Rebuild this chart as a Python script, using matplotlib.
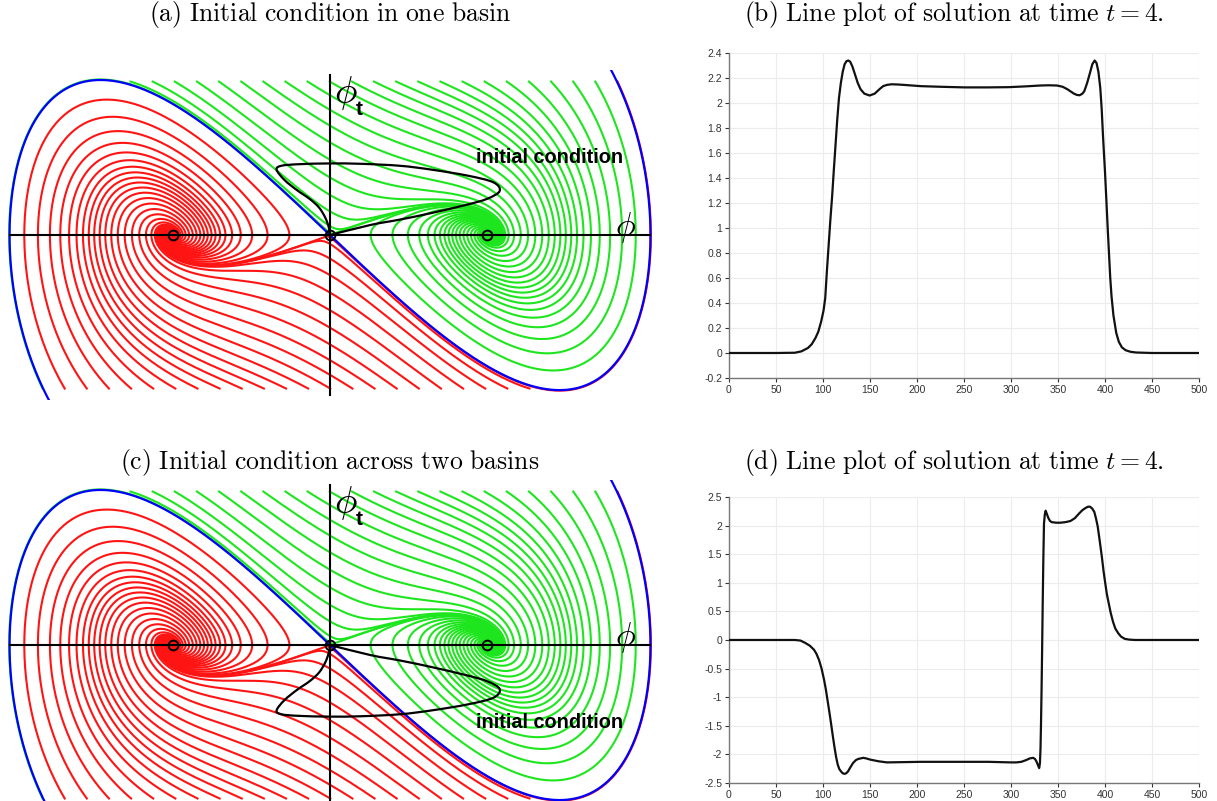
import numpy as np
import matplotlib
matplotlib.use("Agg")
import matplotlib.pyplot as plt
from matplotlib.path import Path
from matplotlib.patches import PathPatch
from matplotlib.ticker import FixedLocator, FuncFormatter

plt.rcParams['mathtext.fontset'] = 'cm'
plt.rcParams['axes.unicode_minus'] = False

# Damped double-well oscillator: phi_tt = -gamma*phi_t + phi - phi^3
wells = [-1.0, 0.0, 1.0]
sep_reach = 2.04      # leftmost point of the separatrix loop
sep_peak = 1.97       # height of the separatrix loop on the phi_t axis

# Seeds for the trajectories on the top edge (bottom edge is the mirror image)
seed_phi_top = np.linspace(-1.27, 1.83, 23)
seed_v_top = 1.95

# Initial condition loop in the (phi, phi_t) plane
ic_phi = [0.0, 0.255, 0.446, 0.637, 0.86, 1.0, 1.08, 1.04, 0.876, 0.65, 0.446, 0.2, 0.0,
          -0.2, -0.31, -0.34, -0.29, -0.21, -0.13, -0.07, -0.03, -0.008, 0.0]
ic_phit = [0.0, 0.127, 0.197, 0.276, 0.38, 0.46, 0.56, 0.67, 0.755, 0.83, 0.88, 0.905, 0.91,
           0.9, 0.88, 0.83, 0.7, 0.57, 0.46, 0.35, 0.22, 0.1, 0.0]

# Solution at t = 4, one basin
xb = [0, 50, 70, 77, 84, 88, 92, 95, 98, 100.6, 102.4, 104.2, 106, 107.8, 109.7, 111.5,
      113.3, 115.1, 117, 119, 121, 123, 125, 127, 129, 131.4, 134, 137, 140, 144, 149.6,
      155, 160, 164, 168, 173, 180, 186, 195, 204, 225, 251, 275, 298, 315, 331, 340,
      349, 355, 360, 364, 367, 370, 373, 376, 378, 381, 384, 386.5, 389, 391, 393, 395,
      396.5, 398, 400, 401.5, 403, 405.6, 407, 409, 412, 414.7, 418, 422, 427, 433, 450, 500]
yb = [0, 0, 0.002, 0.013, 0.04, 0.07, 0.12, 0.17, 0.25, 0.34, 0.44, 0.66, 0.86, 1.06, 1.25,
      1.46, 1.66, 1.86, 2.04, 2.16, 2.25, 2.31, 2.335, 2.34, 2.33, 2.29, 2.23, 2.16, 2.11,
      2.075, 2.06, 2.075, 2.11, 2.135, 2.145, 2.15, 2.148, 2.145, 2.14, 2.135, 2.13, 2.125,
      2.125, 2.127, 2.133, 2.14, 2.142, 2.14, 2.13, 2.11, 2.09, 2.075, 2.065, 2.062, 2.075,
      2.095, 2.16, 2.24, 2.31, 2.34, 2.32, 2.25, 2.12, 1.95, 1.72, 1.45, 1.22, 0.98, 0.6,
      0.45, 0.3, 0.16, 0.09, 0.045, 0.022, 0.01, 0.004, 0, 0]

# Solution at t = 4, two basins
xd = [0, 70, 76, 81, 86, 90.4, 93, 95.8, 98.5, 101.2, 103, 104.8, 106.7, 108.5, 110.3,
      112.1, 113.9, 115.7, 117.5, 119.3, 121, 122.9, 124.7, 126.5, 129, 132, 135, 137.4,
      142.8, 146, 150, 159, 168, 204, 240, 276, 300, 305.5, 311, 316, 320, 323.6, 325.5,
      327, 328.5, 330, 330.8, 331.4, 331.9, 332.5, 333.1, 333.7, 334.4, 335.1, 336, 336.9,
      338, 339.8, 341.5, 343.4, 348, 352.5, 358, 363.3, 368, 372.4, 376, 379.6, 382, 384,
      386.3, 388.6, 390.5, 392.3, 394.5, 396.7, 398.5, 400.3, 402, 404, 406, 408.5, 411,
      414, 417, 421, 426, 432, 500]
yd = [0, 0, -0.01, -0.05, -0.1, -0.17, -0.24, -0.35, -0.5, -0.7, -0.86, -1.05, -1.25,
      -1.45, -1.66, -1.86, -2.04, -2.18, -2.26, -2.3, -2.33, -2.34, -2.33, -2.3, -2.23,
      -2.15, -2.1, -2.08, -2.06, -2.07, -2.09, -2.12, -2.14, -2.13, -2.13, -2.13, -2.14,
      -2.14, -2.13, -2.1, -2.07, -2.06, -2.08, -2.12, -2.18, -2.24, -2.15, -1.9, -1.5,
      -0.9, -0.2, 0.58, 1.4, 2.03, 2.2, 2.26, 2.21, 2.13, 2.08, 2.06, 2.05, 2.05, 2.06,
      2.08, 2.13, 2.21, 2.27, 2.31, 2.33, 2.33, 2.3, 2.24, 2.12, 1.98, 1.72, 1.45, 1.2,
      0.99, 0.8, 0.64, 0.48, 0.32, 0.2, 0.12, 0.06, 0.02, 0.006, 0, 0]

PHI_LIM = 2.05
V_LIM = 2.1


def integrate(p0, v0, g, dt, nsteps, vmax=None):
    # RK4 for phi' = v, v' = -g v + phi - phi^3
    def rhs(p, v):
        return v, -g * v + p - p ** 3
    p = np.array(p0, dtype=float)
    v = np.array(v0, dtype=float)
    ps, vs = [p.copy()], [v.copy()]
    for _ in range(nsteps):
        k1p, k1v = rhs(p, v)
        k2p, k2v = rhs(p + 0.5 * dt * k1p, v + 0.5 * dt * k1v)
        k3p, k3v = rhs(p + 0.5 * dt * k2p, v + 0.5 * dt * k2v)
        k4p, k4v = rhs(p + dt * k3p, v + dt * k3v)
        p = p + dt / 6 * (k1p + 2 * k2p + 2 * k3p + k4p)
        v = v + dt / 6 * (k1v + 2 * k2v + 2 * k3v + k4v)
        ps.append(p.copy())
        vs.append(v.copy())
        if vmax is not None and np.all(np.abs(v) > vmax):
            break
    return np.array(ps), np.array(vs)


def separatrix(g, vmax):
    # stable manifold of the saddle, both branches, backwards in time
    lam_s = (-g - np.sqrt(g ** 2 + 4)) / 2
    d = np.array([-1.0, -lam_s]) * 1e-4 / np.hypot(1.0, lam_s)
    return integrate([d[0], -d[0]], [d[1], -d[1]], g, -0.005, 6000, vmax=vmax)


# damping chosen so that the separatrix loop just reaches sep_reach
lo, hi = 0.3, 1.6
for _ in range(22):
    mid = 0.5 * (lo + hi)
    sp, sv = separatrix(mid, 3.0)
    if -sp[:, 0].min() > sep_reach:
        hi = mid
    else:
        lo = mid
gamma = 0.5 * (lo + hi)

sep_p, sep_v = separatrix(gamma, 3.0)
vscale = sep_peak / sep_v[:, 0].max()

# forward trajectories from the top and bottom edges
seeds_p = np.concatenate([seed_phi_top, -seed_phi_top])
seeds_v = np.concatenate([np.full(seed_phi_top.size, seed_v_top),
                          np.full(seed_phi_top.size, -seed_v_top)]) / vscale
traj_p, traj_v = integrate(seeds_p, seeds_v, gamma, 0.01, 4000)


def smooth_path(xs, ys):
    # Catmull-Rom through the points, drawn as cubic Bezier segments
    pts = np.column_stack([xs, ys])
    ext = np.vstack([pts[0], pts, pts[-1]])
    verts = [pts[0]]
    codes = [Path.MOVETO]
    for i in range(1, len(ext) - 2):
        p0, p1, p2, p3 = ext[i - 1], ext[i], ext[i + 1], ext[i + 2]
        verts += [p1 + (p2 - p0) / 6, p2 - (p3 - p1) / 6, p2]
        codes += [Path.CURVE4] * 3
    return Path(verts, codes)


def phase_portrait(ax, flip):
    for j in range(seeds_p.size):
        col = '#ff1414' if traj_p[-1, j] < 0 else '#1ee61e'
        ax.plot(traj_p[:, j], vscale * traj_v[:, j], color=col, lw=1.5, zorder=2)
    for j in range(2):
        ax.plot(sep_p[:, j], vscale * sep_v[:, j], color='#0000ff', lw=1.6, zorder=3)
    ax.plot([-2.04, 2.04], [0, 0], color='k', lw=1.5, zorder=4)
    ax.plot([0, 0], [-2.03, 2.03], color='k', lw=1.5, zorder=4)
    s = -1 if flip else 1
    ax.add_patch(PathPatch(smooth_path(ic_phi, s * np.array(ic_phit)),
                           fc='none', ec='k', lw=1.6, zorder=5))
    ax.plot(wells, [0, 0, 0], 'o', mfc='none', mec='k', ms=7, mew=1.4, zorder=6)
    ax.text(1.88, 0.1, r'$\phi$', fontsize=24, ha='center', va='center', zorder=6)
    ax.text(0.1, 1.8, r'$\phi$', fontsize=27, ha='center', va='center', zorder=6)
    ax.text(0.185, 1.6, 't', fontsize=15, fontweight='bold', family='Liberation Sans',
            ha='center', va='center', zorder=6)
    ax.text(1.4, s * 0.99, 'initial condition', fontsize=14.3, fontweight='bold',
            family='Liberation Sans', ha='center', va='center', zorder=6)
    ax.set_xlim(-PHI_LIM, PHI_LIM)
    ax.set_ylim(-V_LIM, V_LIM)
    ax.axis('off')


def line_plot(ax, x, y, yticks):
    ax.plot(x, y, color='#111111', lw=1.6, zorder=3)
    ax.set_xlim(0, 500)
    ax.set_ylim(yticks[0], yticks[-1])
    ax.xaxis.set_major_locator(FixedLocator(np.arange(0, 501, 50)))
    ax.yaxis.set_major_locator(FixedLocator(yticks))
    ax.yaxis.set_major_formatter(FuncFormatter(lambda v, _: '%g' % round(v, 2)))
    ax.grid(True, color='#ececec', lw=0.8)
    for side in ['top', 'right']:
        ax.spines[side].set_visible(False)
    for side in ['left', 'bottom']:
        ax.spines[side].set_color('#777777')
        ax.spines[side].set_linewidth(1.0)
    ax.tick_params(labelsize=7.5, colors='#333333', length=3, width=0.8, pad=2)
    for lab in ax.get_xticklabels() + ax.get_yticklabels():
        lab.set_family('Liberation Sans')


fig = plt.figure(figsize=(12.17, 8.01), dpi=100)

ax_a = fig.add_axes([0.00657, 0.5002, 0.5292, 0.4127])
phase_portrait(ax_a, flip=False)
ax_c = fig.add_axes([0.00657, -0.0116, 0.5292, 0.4127])
phase_portrait(ax_c, flip=True)

ax_b = fig.add_axes([0.599, 0.5281, 0.3862, 0.4057])
line_plot(ax_b, xb, yb, np.round(np.arange(-0.2, 2.41, 0.2), 1))
ax_d = fig.add_axes([0.599, 0.02247, 0.3862, 0.3571])
line_plot(ax_d, xd, yd, np.arange(-2.5, 2.51, 0.5))

title_kw = dict(fontsize=18.5, ha='center', va='center')
fig.text(330 / 1217, 1 - 15 / 801, r'$\mathrm{(a)\ Initial\ condition\ in\ one\ basin}$',
         **title_kw)
fig.text(954 / 1217, 1 - 15 / 801,
         r'$\mathrm{(b)\ Line\ plot\ of\ solution\ at\ time}\ t = 4.$', **title_kw)
fig.text(330 / 1217, 1 - 463 / 801,
         r'$\mathrm{(c)\ Initial\ condition\ across\ two\ basins}$', **title_kw)
fig.text(954 / 1217, 1 - 463 / 801,
         r'$\mathrm{(d)\ Line\ plot\ of\ solution\ at\ time}\ t = 4.$', **title_kw)

fig.savefig('out.png', dpi=100)
